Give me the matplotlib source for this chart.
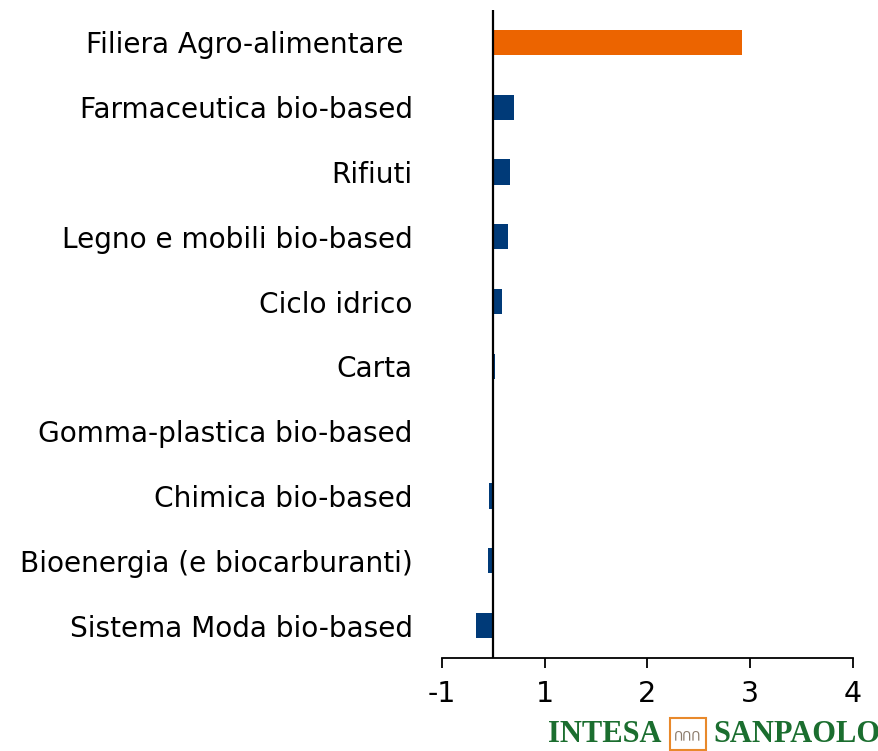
import numpy as np
import matplotlib.pyplot as plt
from matplotlib.patches import Rectangle

categories = ["Filiera Agro-alimentare ", "Farmaceutica bio-based", "Rifiuti",
              "Legno e mobili bio-based", "Ciclo idrico", "Carta",
              "Gomma-plastica bio-based", "Chimica bio-based",
              "Bioenergia (e biocarburanti)", "Sistema Moda bio-based"]
values = [2.42, 0.20, 0.16, 0.14, 0.08, 0.015, -0.005, -0.04, -0.05, -0.17]
x_ticks = [-0.5, 0.5, 1.5, 2.5, 3.5]
x_labels = ["-1", "1", "2", "3", "4"]

orange = "#EC6400"
blue = "#003A78"
colors = [orange] + [blue] * (len(values) - 1)

plt.rcParams['font.family'] = ['DejaVu Sans']

fig = plt.figure(figsize=(8.79, 7.51), dpi=100)
ax = fig.add_axes([442 / 879, 1 - 658 / 751, (853 - 442) / 879, (658 - 10) / 751])

y = np.arange(len(categories))
ax.barh(y, values, height=0.39, color=colors)
ax.axvline(0, color="black", lw=1.6, zorder=3)

ax.set_ylim(len(categories) - 0.5, -0.5)
ax.set_xlim(-0.5, 3.5)
ax.set_yticks(y)
ax.set_yticklabels(categories, fontsize=20.2)
ax.tick_params(axis="y", length=0, pad=21)
ax.set_xticks(x_ticks)
ax.set_xticklabels(x_labels, fontsize=20.5)
ax.tick_params(axis="x", length=7, width=1.3, direction="out", pad=9)

for s in ["left", "right", "top"]:
    ax.spines[s].set_visible(False)
ax.spines["bottom"].set_linewidth(1.3)

# logo
fig.text(548 / 879, 1 - 735 / 751, "INTESA", color="#1B6E2F", fontsize=22,
         family="Liberation Serif", weight="bold", ha="left", va="center")
fig.patches.append(Rectangle((670 / 879, 1 - 750 / 751), 36 / 879, 32 / 751,
                             transform=fig.transFigure, fill=False,
                             edgecolor="#E8892B", lw=1.5))
fig.text(688 / 879, 1 - 737 / 751, "ՈՈՈ", color="#8A7A6A", fontsize=9,
         family="DejaVu Sans", ha="center", va="center")
fig.text(713 / 879, 1 - 735 / 751, "SANPAOLO", color="#1B6E2F", fontsize=22,
         family="Liberation Serif", weight="bold", ha="left", va="center")

fig.savefig("out.png", dpi=100)
